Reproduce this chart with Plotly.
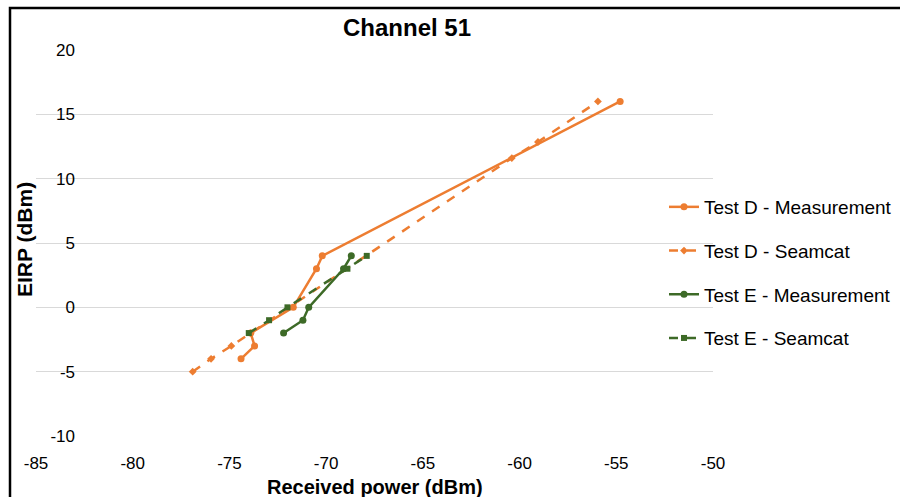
import plotly.graph_objects as go

# ---- data ----
d_meas_x = [-74.4, -73.7, -73.9, -71.7, -70.5, -70.2, -54.8]
d_meas_y = [-4, -3, -2, 0, 3, 4, 16]

d_sea_x = [-76.9, -75.95, -74.9, -73.9, -60.4, -59.05, -55.95]
d_sea_y = [-5, -4, -3, -2, 11.6, 12.85, 16]

e_meas_x = [-72.2, -71.2, -70.9, -69.1, -68.7]
e_meas_y = [-2, -1, 0, 3, 4]

e_sea_x = [-74.0, -72.95, -72.0, -68.9, -67.9]
e_sea_y = [-2, -1, 0, 3, 4]

x_ticks = [-85, -80, -75, -70, -65, -60, -55, -50]
y_ticks = [-10, -5, 0, 5, 10, 15, 20]
x_tick_text = [str(v) for v in x_ticks]
y_tick_text = [str(v) for v in y_ticks]

ORANGE = "#ED7D31"
GREEN = "#3D6A27"
FONT = "Liberation Sans, Arial, sans-serif"

fig = go.Figure()
fig.add_trace(go.Scatter(x=d_meas_x, y=d_meas_y, mode="lines+markers",
                         name="Test D - Measurement", legendgroup="a",
                         line=dict(color=ORANGE, width=2.5),
                         marker=dict(symbol="circle", size=7, color=ORANGE)))
fig.add_trace(go.Scatter(x=d_sea_x, y=d_sea_y, mode="lines+markers",
                         name="Test D - Seamcat", legendgroup="b",
                         line=dict(color=ORANGE, width=2.5, dash="dash"),
                         marker=dict(symbol="diamond", size=6, color=ORANGE)))
fig.add_trace(go.Scatter(x=e_meas_x, y=e_meas_y, mode="lines+markers",
                         name="Test E - Measurement", legendgroup="c",
                         line=dict(color=GREEN, width=2.5),
                         marker=dict(symbol="circle", size=7, color=GREEN)))
fig.add_trace(go.Scatter(x=e_sea_x, y=e_sea_y, mode="lines+markers",
                         name="Test E - Seamcat", legendgroup="d",
                         line=dict(color=GREEN, width=2.5, dash="dash"),
                         marker=dict(symbol="square", size=6, color=GREEN)))

L, R, T, B = 36, 187, 50, 61
W, H = 900, 497
pw, ph = W - L - R, H - T - B

def px_x(p):
    return (p - L) / pw

def px_y(p):
    return (H - B - p) / ph

fig.update_layout(
    width=W, height=H,
    margin=dict(l=L, r=R, t=T, b=B, autoexpand=False),
    paper_bgcolor="white", plot_bgcolor="white",
    font=dict(family=FONT, color="black", size=17),
    title=dict(text="<b>Channel 51</b>", x=407 / W, xanchor="center",
               xref="container", yref="container", y=1 - 28 / H, yanchor="middle",
               font=dict(size=24, family=FONT, color="black")),
    showlegend=True,
    legend=dict(xref="container", yref="container", x=664 / W, y=1 - 188 / H,
                xanchor="left", yanchor="top", font=dict(size=19, family=FONT),
                tracegroupgap=16, bgcolor="rgba(0,0,0,0)", itemwidth=30),
    xaxis=dict(range=[-85, -50], tickvals=x_ticks, ticktext=x_tick_text,
               showgrid=False, zeroline=False,
               showline=False, ticks="", ticklabelstandoff=15, automargin=False,
               tickfont=dict(size=17)),
    yaxis=dict(range=[-10, 20], tickvals=y_ticks, ticktext=y_tick_text,
               showgrid=True, gridcolor="#D9D9D9",
               gridwidth=1, zeroline=False, showline=False, ticks="",
               ticklabelstandoff=-40, automargin=False, tickfont=dict(size=17)),
)

fig.add_annotation(text="<b>Received power (dBm)</b>", xref="paper", yref="paper",
                   x=px_x(375), y=px_y(487), xanchor="center", yanchor="middle",
                   showarrow=False,
                   font=dict(size=20, family=FONT, color="black"))
fig.add_annotation(text="<b>EIRP (dBm)</b>", xref="paper", yref="paper",
                   x=px_x(24), y=px_y(240), xanchor="center", yanchor="middle",
                   showarrow=False, textangle=-90,
                   font=dict(size=21, family=FONT, color="black"))

# outer frame of the chart
fig.add_shape(type="rect", xref="paper", yref="paper",
              x0=px_x(10), x1=px_x(910), y0=px_y(510), y1=px_y(8),
              line=dict(color="black", width=2.5), fillcolor="rgba(0,0,0,0)",
              layer="above")

fig.write_html("out.html", config={"displayModeBar": False},
               post_script="document.body.style.margin='0';")
